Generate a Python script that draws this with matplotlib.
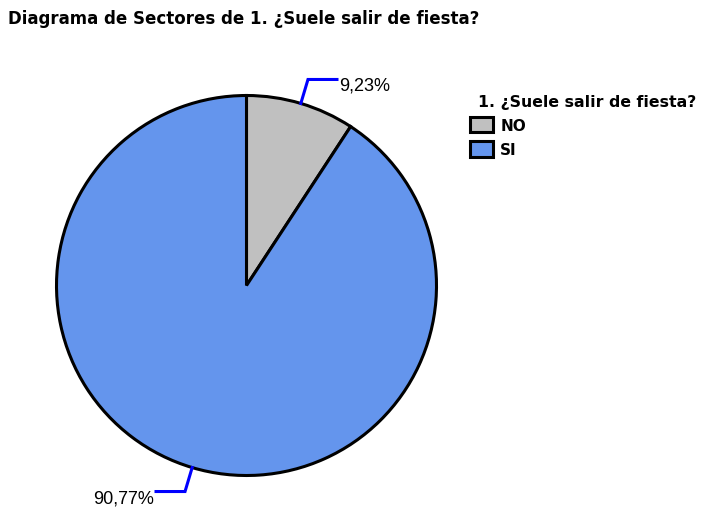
import numpy as np
import matplotlib
matplotlib.use("Agg")
import matplotlib.pyplot as plt

plt.rcParams['font.family'] = ['Liberation Sans', 'DejaVu Sans']

title = "Diagrama de Sectores de 1. ¿Suele salir de fiesta?"
legend_title = "1. ¿Suele salir de fiesta?"
categories = ["NO", "SI"]
percentages = [9.23, 90.77]
colors = ["#C0C0C0", "#6495ED"]
labels = ["9,23%", "90,77%"]

W, H = 705, 510
fig = plt.figure(figsize=(W / 100, H / 100), dpi=100)
ax = fig.add_axes([0, 0, 1, 1])
ax.set_xlim(0, W)
ax.set_ylim(0, H)
ax.set_aspect('equal')
ax.axis('off')

cx, cy, r = 246.5, H - 286.5, 190
wedges, _ = ax.pie(percentages, colors=colors, startangle=90, counterclock=False,
                   center=(cx, cy), radius=r,
                   wedgeprops=dict(edgecolor='black', linewidth=2.2))
ax.set_xlim(0, W)
ax.set_ylim(0, H)

# leader lines from the middle of each wedge's arc
for w, lab in zip(wedges, labels):
    mid = np.deg2rad((w.theta1 + w.theta2) / 2)
    ux, uy = np.cos(mid), np.sin(mid)
    x0, y0 = cx + r * ux, cy + r * uy
    x1, y1 = cx + (r + 25) * ux, cy + (r + 25) * uy
    side = 1 if ux >= 0 else -1
    x2 = x1 + side * 29
    ax.plot([x0, x1, x2], [y0, y1, y1], color='#0000FF', lw=2.2,
            solid_joinstyle='miter', zorder=3)
    ax.text(x2 + side * 2, y1 - 6, lab, fontsize=13,
            ha='left' if side > 0 else 'right', va='center')

fig.text(8 / W, 1 - 19 / H, title, fontsize=12, fontweight='bold',
         family='DejaVu Sans', ha='left', va='center')

leg = ax.legend(wedges, categories, title=legend_title, frameon=False,
                loc='upper left', bbox_to_anchor=(459 / W, 1 - 84 / H),
                bbox_transform=fig.transFigure,
                prop=dict(size=11, weight='bold', family='DejaVu Sans'),
                title_fontproperties=dict(size=11.3, weight='bold', family='DejaVu Sans'),
                handlelength=1.5, handleheight=1.2, handletextpad=0.5,
                labelspacing=0.53, borderpad=0.2)
leg._legend_box.align = 'left'
leg.get_title().set_x(8)

fig.savefig("out.png", dpi=100)
